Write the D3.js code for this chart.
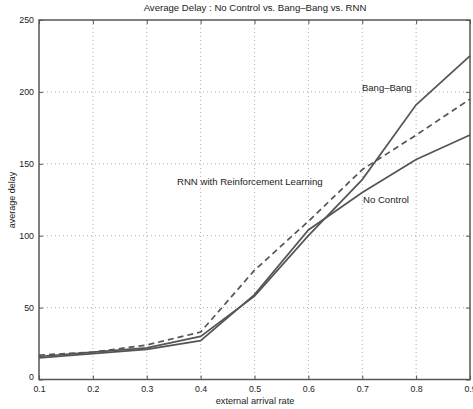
<!DOCTYPE html>
<html>
<head>
<meta charset="utf-8">
<script src="https://cdn.jsdelivr.net/npm/d3@7"></script>
<style>
  body { margin: 0; background: #fff; }
  svg { display: block; font-family: "Liberation Sans", Arial, sans-serif; }
</style>
</head>
<body>
<svg id="chart" width="473" height="409"></svg>
<script>
// arrival rates and the three delay curves
var arrivalRate = [0.1, 0.2, 0.3, 0.4, 0.5, 0.6, 0.7, 0.8, 0.9];
var noControl   = [15, 18, 21, 27, 59, 104, 130, 153, 170];
var bangBang    = [16, 19, 22, 30, 58, 100, 139, 191, 225];
var rnn         = [17, 19, 24, 33, 76, 110, 146, 170, 195];
var xTicks = [0.1, 0.2, 0.3, 0.4, 0.5, 0.6, 0.7, 0.8, 0.9];
var yTicks = [0, 50, 100, 150, 200, 250];

var svg = d3.select('#chart');
var margin = {top: 20, right: 3, bottom: 29.5, left: 39},
  width = 473 - margin.left - margin.right,
  height = 409 - margin.top - margin.bottom;

var x = d3.scaleLinear().domain([0.1, 0.9]).range([0, width]),
  y = d3.scaleLinear().domain([0, 250]).range([height, 0]);

var g = svg.append("g")
  .attr("transform", "translate(" + margin.left + "," + margin.top + ")");

// dotted grid
g.append("g")
  .selectAll("line")
  .data(xTicks.slice(1, -1))
  .enter().append("line")
  .attr("x1", function(d) { return x(d); })
  .attr("x2", function(d) { return x(d); })
  .attr("y1", 0).attr("y2", height)
  .attr("stroke", "#999").attr("stroke-width", 0.8)
  .attr("stroke-dasharray", "1,3");

g.append("g")
  .selectAll("line")
  .data(yTicks.slice(1, -1))
  .enter().append("line")
  .attr("y1", function(d) { return y(d); })
  .attr("y2", function(d) { return y(d); })
  .attr("x1", 0).attr("x2", width)
  .attr("stroke", "#999").attr("stroke-width", 0.8)
  .attr("stroke-dasharray", "1,3");

// axes, matlab style: inward ticks on every side
function styleAxis(sel) {
  sel.select(".domain").remove();
  sel.selectAll(".tick line").attr("stroke", "#555").attr("stroke-width", 1);
  sel.selectAll(".tick text").attr("fill", "#222").style("font-size", "8.8px");
}

g.append("g")
  .attr("transform", "translate(0," + height + ")")
  .call(d3.axisBottom(x).tickValues(xTicks).tickSizeInner(-4).tickPadding(6).tickFormat(d3.format(".1f")))
  .call(styleAxis);

g.append("g")
  .call(d3.axisLeft(y).tickValues(yTicks).tickSizeInner(-4).tickPadding(5).tickFormat(d3.format("d")))
  .call(styleAxis)
  .selectAll(".tick text").attr("dy", function(d) { return d === 0 ? "-0.05em" : "0.32em"; });

g.append("g")
  .call(d3.axisTop(x).tickValues(xTicks).tickSizeInner(-4).tickFormat(""))
  .call(styleAxis);

g.append("g")
  .attr("transform", "translate(" + width + ",0)")
  .call(d3.axisRight(y).tickValues(yTicks).tickSizeInner(-4).tickFormat(""))
  .call(styleAxis);

g.append("rect")
  .attr("width", width).attr("height", height)
  .attr("fill", "none").attr("stroke", "#555").attr("stroke-width", 1.5);

// curves
var line = d3.line()
  .x(function(d, i) { return x(arrivalRate[i]); })
  .y(function(d) { return y(d); });

[noControl, bangBang].forEach(function(s) {
  g.append("path")
    .datum(s)
    .attr("d", line)
    .attr("fill", "none").attr("stroke", "#555").attr("stroke-width", 1.7);
});

g.append("path")
  .datum(rnn)
  .attr("d", line)
  .attr("fill", "none").attr("stroke", "#555").attr("stroke-width", 1.7)
  .attr("stroke-dasharray", "6,4");

// labels
function label(txt, px, py, size) {
  svg.append("text")
    .attr("x", px).attr("y", py)
    .attr("dy", "0.35em")
    .attr("fill", "#222")
    .style("font-size", size + "px")
    .text(txt);
}
label("Bang\u2013Bang", 362, 88, 9.5);
label("RNN with Reinforcement Learning", 177, 182, 9.6);
label("No Control", 363, 200, 9.6);

svg.append("text")
  .attr("x", 255).attr("y", 8).attr("dy", "0.35em")
  .attr("text-anchor", "middle").attr("fill", "#222")
  .style("font-size", "9.6px")
  .text("Average Delay : No Control vs. Bang\u2013Bang vs. RNN");

svg.append("text")
  .attr("x", 255).attr("y", 401).attr("dy", "0.35em")
  .attr("text-anchor", "middle").attr("fill", "#222")
  .style("font-size", "9.2px")
  .text("external arrival rate");

svg.append("text")
  .attr("transform", "translate(11.5,200) rotate(-90)")
  .attr("dy", "0.35em")
  .attr("text-anchor", "middle").attr("fill", "#222")
  .style("font-size", "9px")
  .text("average delay");
</script>
</body>
</html>
